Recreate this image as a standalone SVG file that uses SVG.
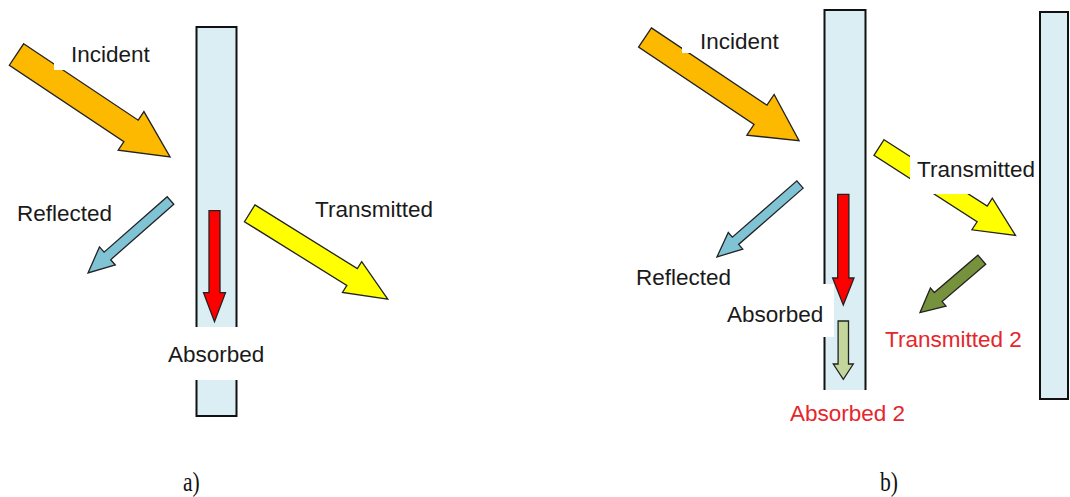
<svg xmlns="http://www.w3.org/2000/svg" width="1070" height="497" viewBox="0 0 1070 497">
<style>
.slab{fill:#daeef3;stroke:#111;stroke-width:2}
.arr{stroke:#222;stroke-width:1.3;stroke-linejoin:miter}
.inc{fill:#fcb900}
.ref{fill:#7fc3d4}
.tra{fill:#ffff00}
.abs{fill:#ff0000}
.abs2{fill:#c3d69b}
.tra2{fill:#76923c}
.lbl{font-family:"Liberation Sans",Arial,sans-serif;font-size:22.5px;fill:#1a1a1a}
.red{fill:#e5262b}
.bg{fill:#fff}
.cap{font-family:"Liberation Serif","Times New Roman",serif;font-size:27px;fill:#111}
</style>
<rect width="1070" height="497" fill="#fff"/>
<g id="slab-a"><rect class="slab" x="196.5" y="27" width="40" height="389"/></g>
<g id="slab-b1"><rect class="slab" x="824.5" y="10" width="41" height="381"/></g>
<g id="slab-b2"><rect class="slab" x="1040" y="12" width="28" height="387"/></g>
<g id="label-bg">
<rect class="bg" x="166" y="327" width="102" height="53"/>
<rect class="bg" x="723" y="284" width="111" height="53"/>
<rect class="bg" x="785" y="390" width="128" height="40"/>
</g>
<g id="connectors">
<polygon class="arr inc" transform="translate(16.5,54.5) rotate(33.7)" points="0,-12.9 137.7,-12.9 137.7,-23.2 184.6,0 137.7,23.2 137.7,12.9 0,12.9"/>
<polygon class="arr ref" transform="translate(170.5,200.5) rotate(138.7)" points="0,-5 84,-5 84,-12 109.8,0 84,12 84,5 0,5"/>
<polygon class="arr tra" transform="translate(249.7,213.3) rotate(31.9)" points="0,-9.9 120.6,-9.9 120.6,-18.2 162.6,0 120.6,18.2 120.6,9.9 0,9.9"/>
<polygon class="arr abs" transform="translate(214.5,210.7) rotate(90)" points="0,-5.5 82,-5.5 82,-11 111,0 82,11 82,5.5 0,5.5"/>
<polygon class="arr inc" transform="translate(645,37.5) rotate(33.8)" points="0,-11.6 139,-11.6 139,-24.5 185.4,0 139,24.5 139,11.6 0,11.6"/>
<polygon class="arr ref" transform="translate(800,184.5) rotate(138.9)" points="0,-4.8 85.6,-4.8 85.6,-11 110.2,0 85.6,11 85.6,4.8 0,4.8"/>
<polygon class="arr tra" transform="translate(879,147.5) rotate(32.8)" points="0,-9.3 122.7,-9.3 122.7,-18.8 162.4,0 122.7,18.8 122.7,9.3 0,9.3"/>
<polygon class="arr abs" transform="translate(843.3,194.3) rotate(90)" points="0,-5.6 83.7,-5.6 83.7,-10.7 110.7,0 83.7,10.7 83.7,5.6 0,5.6"/>
<polygon class="arr abs2" transform="translate(843.3,321) rotate(90)" points="0,-5.2 43,-5.2 43,-10 58.3,0 43,10 43,5.2 0,5.2"/>
<polygon class="arr tra2" transform="translate(981.8,259.7) rotate(139.4)" points="0,-6 57.4,-6 57.4,-12 81.4,0 57.4,12 57.4,6 0,6"/>
</g>
<g id="label-bg2">
<rect class="bg" x="54" y="36" width="102" height="34"/>
<rect class="bg" x="682" y="22" width="103" height="31"/>
<rect class="bg" x="910" y="151" width="127" height="43"/>
</g>
<g id="label-incident-a"><text class="lbl" x="71" y="62">Incident</text></g>
<g id="label-reflected-a"><text class="lbl" x="17" y="221">Reflected</text></g>
<g id="label-transmitted-a"><text class="lbl" x="315" y="217">Transmitted</text></g>
<g id="label-absorbed-a"><text class="lbl" x="168" y="362">Absorbed</text></g>
<g id="label-incident-b"><text class="lbl" x="700" y="49">Incident</text></g>
<g id="label-transmitted-b"><text class="lbl" x="917" y="177">Transmitted</text></g>
<g id="label-reflected-b"><text class="lbl" x="636" y="285">Reflected</text></g>
<g id="label-absorbed-b"><text class="lbl" x="727" y="322">Absorbed</text></g>
<g id="label-transmitted2-b"><text class="lbl red" x="885" y="347">Transmitted 2</text></g>
<g id="label-absorbed2-b"><text class="lbl red" x="790" y="421">Absorbed 2</text></g>
<g id="caption-a"><text class="cap" transform="scale(0.8,1)" x="228.75" y="491">a)</text></g>
<g id="caption-b"><text class="cap" transform="scale(0.8,1)" x="1100" y="491">b)</text></g>
</svg>
